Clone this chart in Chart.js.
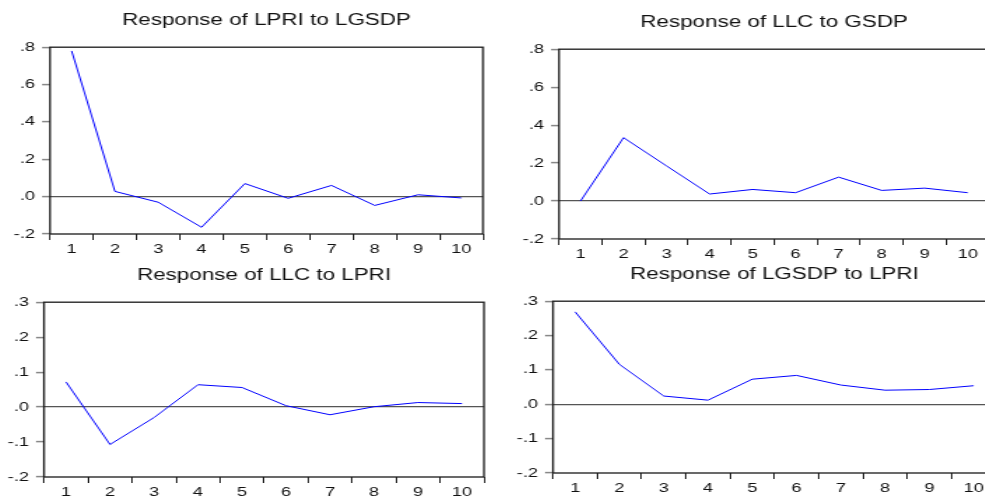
<!DOCTYPE html>
<html>
<head>
<meta charset="utf-8">
<script src="https://cdn.jsdelivr.net/npm/chart.js@4"></script>
<style>
  html, body { margin: 0; padding: 0; background: #fff; }
  body { width: 985px; height: 497px; overflow: hidden; position: relative; }
  canvas { position: absolute; transform-origin: 0 0; }
</style>
</head>
<body>
<canvas id="c1"></canvas>
<canvas id="c2"></canvas>
<canvas id="c3"></canvas>
<canvas id="c4"></canvas>
<script>
// datos
const periods = ['1', '2', '3', '4', '5', '6', '7', '8', '9', '10'];
const lpriToLgsdp = [0.78, 0.028, -0.03, -0.164, 0.07, -0.009, 0.06, -0.047, 0.01, -0.007];
const llcToGsdp = [0.0, 0.334, 0.185, 0.037, 0.061, 0.044, 0.126, 0.056, 0.068, 0.044];
const llcToLpri = [0.072, -0.107, -0.030, 0.064, 0.056, 0.004, -0.022, 0.001, 0.013, 0.010];
const lgsdpToLpri = [0.269, 0.116, 0.024, 0.012, 0.073, 0.084, 0.056, 0.041, 0.043, 0.054];
const yLabelsTop = ['-.2', '.0', '.2', '.4', '.6', '.8'];
const yLabelsBottom = ['-.2', '-.1', '.0', '.1', '.2', '.3'];

const FONT = "'Liberation Sans', Arial, sans-serif";
const SX = 1.4;            // la imagen original está estirada en horizontal
const Y_W = 50, X_H = 27, TITLE_H = 39.2;

// marco completo alrededor del área de la gráfica
const framePlugin = {
    id: 'frame',
    afterDraw(chart) {
        const { ctx, chartArea: a } = chart;
        ctx.save();
        ctx.strokeStyle = '#1a1a1a';
        ctx.lineWidth = 1.3;
        ctx.strokeRect(a.left, a.top, a.right - a.left, a.bottom - a.top);
        ctx.restore();
    }
};

function makePanel(id, title, data, labels, min, max, step, box) {
    const canvas = document.getElementById(id);
    const plotW = box.right - box.left, plotH = box.bottom - box.top;
    canvas.width = Math.round((Y_W + plotW) / SX + 3);
    canvas.height = Math.round(TITLE_H + plotH + X_H);
    canvas.style.left = (box.left - Y_W) + 'px';
    canvas.style.top = (box.top - TITLE_H) + 'px';
    canvas.style.transform = 'scaleX(' + SX + ')';

    return new Chart(canvas.getContext('2d'), {
        type: 'line',
        data: {
            labels: periods,
            datasets: [{
                data: data,
                borderColor: '#0000ff',
                borderWidth: 1,
                pointRadius: 0,
                tension: 0,
                fill: false,
                clip: false
            }]
        },
        options: {
            responsive: false,
            animation: false,
            devicePixelRatio: 1,
            layout: { padding: { left: 0, right: 3, top: 0, bottom: 0 } },
            plugins: {
                legend: { display: false },
                tooltip: { enabled: false },
                title: {
                    display: true,
                    text: title,
                    fullSize: false,
                    color: '#111',
                    font: { family: FONT, size: 16, weight: 'normal' },
                    padding: { top: 3, bottom: 17 }
                }
            },
            scales: {
                x: {
                    offset: true,
                    border: { display: false },
                    grid: {
                        offset: true,
                        drawOnChartArea: false,
                        drawTicks: true,
                        tickLength: 6,
                        tickColor: '#222',
                        tickWidth: 1
                    },
                    ticks: {
                        color: '#111',
                        font: { family: FONT, size: 13 },
                        padding: 2,
                        maxRotation: 0,
                        autoSkip: false
                    },
                    afterFit(scale) { scale.height = X_H; }
                },
                y: {
                    min: min,
                    max: max,
                    border: { display: false },
                    grid: {
                        color: (c) => (c.tick && Math.abs(c.tick.value) < 1e-9) ? '#555' : 'rgba(0,0,0,0)',
                        lineWidth: 1.2,
                        drawTicks: true,
                        tickLength: 8 / SX,
                        tickColor: '#888',
                        tickWidth: 1.5
                    },
                    ticks: {
                        stepSize: step,
                        color: '#111',
                        font: { family: FONT, size: 13 },
                        padding: 5,
                        callback: (v, i) => labels[i]
                    },
                    afterFit(scale) { scale.width = Y_W / SX; }
                }
            }
        },
        plugins: [framePlugin]
    });
}

makePanel('c1', 'Response of LPRI to LGSDP', lpriToLgsdp, yLabelsTop, -0.2, 0.8, 0.2,
    { left: 50, right: 483, top: 47, bottom: 234 });
makePanel('c2', 'Response of LLC to GSDP', llcToGsdp, yLabelsTop, -0.2, 0.8, 0.2,
    { left: 559, right: 989, top: 49, bottom: 239 });
makePanel('c3', 'Response of LLC to LPRI', llcToLpri, yLabelsBottom, -0.2, 0.3, 0.1,
    { left: 44, right: 484, top: 302, bottom: 477 });
makePanel('c4', 'Response of LGSDP to LPRI', lgsdpToLpri, yLabelsBottom, -0.2, 0.3, 0.1,
    { left: 553, right: 996, top: 301, bottom: 473 });
</script>
</body>
</html>
